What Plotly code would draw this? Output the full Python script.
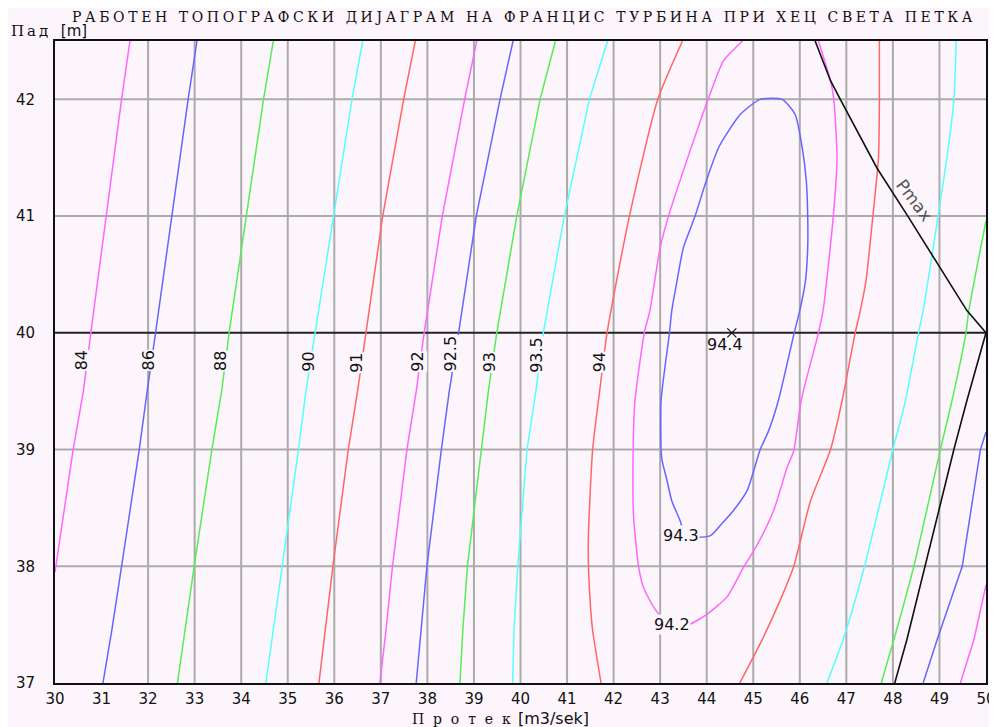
import plotly.graph_objects as go

# ---------------- data ----------------
title_text = "РАБОТЕН ТОПОГРАФСКИ ДИЈАГРАМ НА ФРАНЦИС ТУРБИНА ПРИ ХЕЦ СВЕТА ПЕТКА"
y_title_a = "Пад"
y_title_b = "[m]"
x_title_a = "П р о т е к"
x_title_b = "[m3/sek]"

x_ticks = list(range(30, 51))
y_ticks = [37, 38, 39, 40, 41, 42]
grid_x = list(range(32, 50))
grid_y = [38, 39, 41, 42]
ref_head = 40.0

# left (rising) iso-efficiency lines
q84 = [30.0, 30.39, 30.61, 30.77, 31.43, 31.61]
h84 = [37.95, 39.0, 39.5, 40.0, 42.0, 42.5]
h_a = [37.0, 37.45, 38.0, 39.0, 39.5, 40.0, 42.0, 42.5]
q86 = [31.03, 31.22, 31.43, 31.81, 31.98, 32.16, 32.86, 33.05]
q88 = [32.63, 32.79, 32.99, 33.37, 33.58, 33.74, 34.48, 34.69]
q90 = [34.53, 34.69, 34.89, 35.23, 35.39, 35.59, 36.38, 36.61]
h_b = [37.0, 37.45, 38.0, 39.0, 39.5, 40.0, 41.0, 42.0, 42.5]
q91 = [35.67, 35.80, 35.97, 36.30, 36.50, 36.68, 37.04, 37.49, 37.74]
q92 = [36.98, 37.11, 37.25, 37.56, 37.76, 37.93, 38.32, 38.80, 39.06]
q925 = [37.76, 37.87, 37.99, 38.30, 38.47, 38.67, 39.05, 39.56, 39.84]
q93 = [38.70, 38.76, 38.86, 39.15, 39.31, 39.49, 39.92, 40.42, 40.75]
q935 = [39.83, 39.86, 39.94, 40.14, 40.33, 40.49, 40.94, 41.48, 41.87]
q94 = [41.73, 41.55, 41.51, 41.46, 41.46, 41.55, 41.70, 41.86, 42.34, 42.95, 43.48]
h94 = [37.0, 37.45, 37.62, 38.0, 38.28, 39.0, 39.5, 40.0, 41.0, 42.0, 42.5]

# right-hand branches
q94r = [44.71, 45.19, 45.58, 45.87, 46.23, 46.66, 46.91, 47.19, 47.30, 47.42, 47.57, 47.69, 47.71, 47.71]
h94r = [37.0, 37.37, 37.71, 38.0, 38.56, 39.0, 39.42, 40.0, 40.19, 40.44, 41.0, 41.5, 42.0, 42.5]
q935r = [46.58, 46.93, 47.39, 48.00, 48.27, 48.55, 48.65, 48.97, 49.16, 49.31, 49.36]
h935r = [37.0, 37.37, 38.0, 39.0, 39.42, 40.0, 40.19, 41.0, 41.5, 42.0, 42.5]
q93r = [47.75, 48.02, 48.45, 49.02, 49.27, 49.57, 49.63, 50.0]
h93r = [37.0, 37.37, 38.0, 39.0, 39.42, 40.0, 40.19, 40.96]
q925r = [48.65, 48.95, 49.49, 49.88, 50.0]
h925r = [37.0, 37.37, 38.0, 39.0, 39.15]
q92r = [49.45, 49.74, 50.0]
h92r = [37.0, 37.37, 37.84]

# 94.2 (open U) and 94.3 (closed loop)
q942 = [44.77, 44.36, 44.03, 43.79, 43.18, 43.00, 42.78, 42.66, 42.46, 42.42, 42.43, 42.54,
        42.64, 42.86, 43.04, 43.25, 43.61, 44.01, 44.44, 44.79, 45.08, 45.44, 45.73, 45.87,
        46.03, 46.40, 46.50, 46.72, 46.80, 46.73, 46.66, 46.40]
h942 = [42.5, 42.33, 42.0, 41.73, 41.0, 40.73, 40.19, 40.0, 39.42, 39.0, 38.42, 37.99,
        37.82, 37.65, 37.56, 37.50, 37.50, 37.59, 37.74, 37.99, 38.18, 38.48, 38.85, 38.99,
        39.42, 40.0, 40.19, 41.0, 41.5, 42.0, 42.16, 42.5]
q943 = [45.15, 45.62, 45.90, 46.05, 46.14, 46.17, 46.17, 46.12, 46.00, 45.88, 45.54, 45.33,
        45.15, 44.87, 44.58, 44.29, 44.07, 43.54, 43.43, 43.25, 43.15, 43.04, 43.02, 43.02,
        43.20, 43.25, 43.36, 43.50, 43.75, 43.99, 44.26, 44.72, 45.15]
h943 = [42.0, 42.0, 41.87, 41.59, 41.30, 41.0, 40.73, 40.44, 40.19, 40.0, 39.42, 39.16,
        39.0, 38.65, 38.48, 38.35, 38.26, 38.26, 38.39, 38.56, 38.73, 38.91, 39.0, 39.42,
        40.0, 40.19, 40.44, 40.73, 41.0, 41.30, 41.59, 41.87, 42.0]

# Pmax limit line
q_pmax = [46.33, 46.66, 46.87, 47.66, 48.32, 48.88, 49.59, 50.0, 49.59, 49.31, 48.70, 48.30, 48.04]
h_pmax = [42.5, 42.16, 42.0, 41.41, 41.0, 40.64, 40.19, 40.0, 39.42, 39.0, 38.0, 37.37, 37.0]

# best efficiency point
q_best = [44.54]
h_best = [40.0]

# contour labels
lab_text = ["84", "86", "88", "90", "91", "92", "92.5", "93", "93.5", "94"]
lab_q = [30.57, 32.01, 33.57, 35.43, 36.48, 37.77, 38.50, 39.33, 40.33, 41.69]
lab_h = [39.76, 39.76, 39.76, 39.75, 39.74, 39.75, 39.82, 39.75, 39.81, 39.75]
hlab_text = ["94.4", "94.3", "94.2"]
hlab_q = [44.39, 43.45, 43.25]
hlab_h = [39.90, 38.26, 37.50]
hlab_bg = [False, True, True]

# ---------------- styling ----------------
MAG, BLU, GRN, CYN, RED = "#FF66FF", "#6666FF", "#55EE55", "#55FFFF", "#FF6666"
BG = "#FCF5FC"
GRID = "#ABABAB"

series = [
    (q84, h84, MAG, "linear"), (q86, h_a, BLU, "linear"), (q88, h_a, GRN, "linear"),
    (q90, h_a, CYN, "linear"), (q91, h_b, RED, "linear"), (q92, h_b, MAG, "linear"),
    (q925, h_b, BLU, "linear"), (q93, h_b, GRN, "linear"), (q935, h_b, CYN, "linear"),
    (q94, h94, RED, "spline"), (q94r, h94r, RED, "spline"), (q935r, h935r, CYN, "spline"),
    (q93r, h93r, GRN, "spline"), (q925r, h925r, BLU, "linear"), (q92r, h92r, MAG, "linear"),
    (q942, h942, MAG, "spline"), (q943, h943, BLU, "spline"),
]

fig = go.Figure()
for q, h, c, shp in series:
    ln = dict(color=c, width=1.5, shape=shp)
    if shp == "spline":
        ln["smoothing"] = 0.6
    fig.add_trace(go.Scatter(x=q, y=h, mode="lines", line=ln, hoverinfo="skip", showlegend=False))
fig.add_trace(go.Scatter(x=q_pmax, y=h_pmax, mode="lines", line=dict(color="#111111", width=1.6),
                         hoverinfo="skip", showlegend=False))
fig.add_trace(go.Scatter(x=q_best, y=h_best, mode="markers",
                         marker=dict(symbol="x-thin", size=9, line=dict(color="#111111", width=1.2)),
                         hoverinfo="skip", showlegend=False))

shapes = []
for gx in grid_x:
    shapes.append(dict(type="line", xref="x", yref="paper", x0=gx, x1=gx, y0=0, y1=1,
                       line=dict(color=GRID, width=2), layer="below"))
for gy in grid_y:
    shapes.append(dict(type="line", xref="paper", yref="y", x0=0, x1=1, y0=gy, y1=gy,
                       line=dict(color=GRID, width=2), layer="below"))
shapes.append(dict(type="line", xref="paper", yref="y", x0=0, x1=1, y0=ref_head, y1=ref_head,
                   line=dict(color="#222222", width=2), layer="below"))

# the page body adds an 8px offset; figure sized so the plot lands where the reference has it
OFF = 8
W, H = 997 - OFF, 727 - OFF
L, R, T, B = 55 - OFF, 11, 41 - OFF, 44


def pxx(xp):
    return (xp - OFF - L) / (W - L - R)


def pyy(yp):
    return (H - B - (yp - OFF)) / (H - T - B)


ann = []
for t, q, h in zip(lab_text, lab_q, lab_h):
    ann.append(dict(x=q, y=h, xref="x", yref="y", text=t, showarrow=False, textangle=-90,
                    font=dict(family="DejaVu Sans", size=16, color="#111111"), bgcolor=BG, borderpad=0))
for t, q, h, bg in zip(hlab_text, hlab_q, hlab_h, hlab_bg):
    ann.append(dict(x=q, y=h, xref="x", yref="y", text=t, showarrow=False,
                    font=dict(family="DejaVu Sans", size=16, color="#111111"),
                    bgcolor=BG if bg else "rgba(0,0,0,0)", borderpad=0))
ann.append(dict(x=48.46, y=41.14, xref="x", yref="y", text="Pmax", showarrow=False, textangle=53,
                font=dict(family="DejaVu Sans", size=17, color="#555555")))
ann.append(dict(x=pxx(71), y=pyy(8), xref="paper", yref="paper", xanchor="left", yanchor="top",
                text="<span style='letter-spacing:3.6px'>" + title_text + "</span>", showarrow=False,
                borderpad=0, font=dict(family="DejaVu Serif", size=14, color="#111111")))
ann.append(dict(x=pxx(10), y=pyy(31), xref="paper", yref="paper", xanchor="left", yanchor="middle",
                text="<span style='font-family:DejaVu Serif;letter-spacing:3px'>" + y_title_a
                     + "</span>  " + y_title_b,
                showarrow=False, borderpad=0, font=dict(family="DejaVu Sans", size=15, color="#111111")))
ann.append(dict(x=pxx(411), y=pyy(718), xref="paper", yref="paper", xanchor="left", yanchor="middle",
                text="<span style='font-family:DejaVu Serif;font-size:14px;letter-spacing:2.2px'>"
                     + x_title_a + "</span> " + x_title_b,
                showarrow=False, borderpad=0, font=dict(family="DejaVu Sans", size=16, color="#111111")))

fig.update_layout(
    width=W, height=H, autosize=False,
    margin=dict(l=L, r=R, t=T, b=B, pad=0),
    paper_bgcolor=BG, plot_bgcolor=BG,
    shapes=shapes, annotations=ann, showlegend=False,
    font=dict(family="DejaVu Sans", size=15, color="#111111"),
    xaxis=dict(range=[30, 50], tickvals=x_ticks, ticktext=[str(v) for v in x_ticks],
               showgrid=False, zeroline=False, showline=True, linecolor="#111111", linewidth=2,
               mirror=True, ticks="", ticklabelstandoff=1, fixedrange=True, automargin=False,
               tickfont=dict(size=15)),
    yaxis=dict(range=[37, 42.5], tickvals=y_ticks, ticktext=[str(v) for v in y_ticks],
               showgrid=False, zeroline=False, showline=True, linecolor="#111111", linewidth=2,
               mirror=True, ticks="", ticklabelstandoff=15, fixedrange=True, automargin=False,
               tickfont=dict(size=15)),
)

fig.write_html("out.html")
